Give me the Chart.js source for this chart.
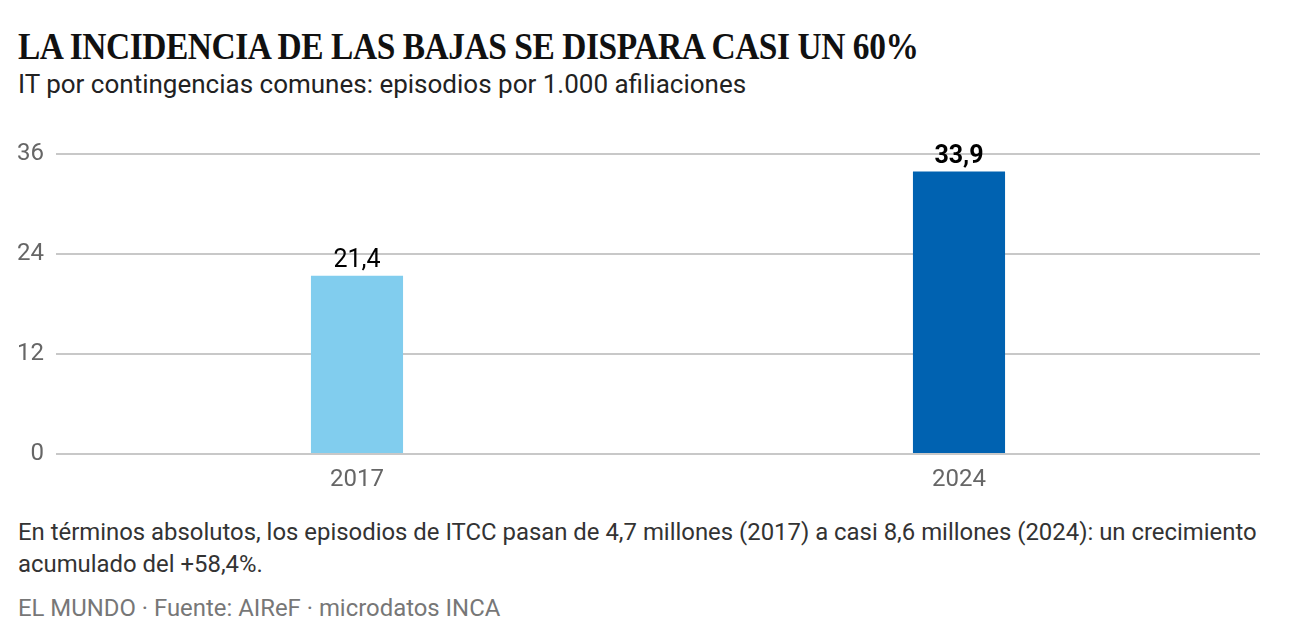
<!DOCTYPE html>
<html>
<head>
<meta charset="utf-8">
<script src="https://cdn.jsdelivr.net/npm/chart.js@4.4.1/dist/chart.umd.min.js"></script>
<style>
  body { margin: 0; background: #fff; width: 1292px; height: 642px; overflow: hidden; position: relative; font-family: Roboto, sans-serif; }
  h1 { position: absolute; left: 18px; top: 26px; margin: 0; font-family: "Liberation Serif", serif; font-weight: bold; font-size: 38px; line-height: 40px; color: #111; transform-origin: left top; transform: scaleX(0.88); white-space: nowrap; letter-spacing: -0.5px; }
  .sub { position: absolute; left: 18px; top: 69px; font-size: 26px; color: #222; }
  .wrap { position: absolute; left: 0; top: 110px; width: 1292px; height: 384px; }
  .note { position: absolute; left: 18px; top: 516px; width: 1262px; font-size: 23.9px; line-height: 32px; color: #333; }
  .src { position: absolute; left: 18px; top: 594px; font-size: 23.9px; color: #777; }
</style>
</head>
<body>
<h1 id="title">LA INCIDENCIA DE LAS BAJAS SE DISPARA CASI UN 60%</h1>
<div class="sub">IT por contingencias comunes: episodios por 1.000 afiliaciones</div>
<div class="wrap"><canvas id="chart"></canvas></div>
<div class="note">En términos absolutos, los episodios de ITCC pasan de 4,7 millones (2017) a casi 8,6 millones (2024): un crecimiento acumulado del +58,4%.</div>
<div class="src">EL MUNDO · Fuente: AIReF · microdatos INCA</div>
<script>
const years = ['2017', '2024'];
const values = [21.4, 33.9];
const barColors = ['#81cdee', '#0062b1'];
const yTicks = [0, 12, 24, 36];

// etiquetas de valor encima de cada barra
const valueLabels = {
  id: 'valueLabels',
  afterDatasetsDraw(chart) {
    const ctx = chart.ctx;
    const meta = chart.getDatasetMeta(0);
    ctx.save();
    ctx.textAlign = 'center';
    ctx.textBaseline = 'bottom';
    ctx.fillStyle = '#000';
    meta.data.forEach((bar, i) => {
      const last = i === values.length - 1;
      ctx.font = (last ? 'bold ' : '') + '25px Roboto';
      ctx.fillText(values[i].toFixed(1).replace('.', ','), bar.x, bar.y - 2);
    });
    ctx.restore();
  }
};

new Chart(document.getElementById('chart'), {
  type: 'bar',
  data: {
    labels: years,
    datasets: [{
      data: values,
      backgroundColor: barColors,
      borderWidth: 0,
      barPercentage: 0.153,
      categoryPercentage: 1
    }]
  },
  options: {
    responsive: true,
    maintainAspectRatio: false,
    animation: false,
    layout: { padding: { top: 44, right: 32, left: 0, bottom: 0 } },
    plugins: { legend: { display: false }, tooltip: { enabled: false } },
    scales: {
      x: {
        grid: { display: false },
        border: { display: false },
        ticks: { color: '#666', font: { family: 'Roboto', size: 24 }, padding: 4 },
        afterFit(axis) { axis.height = 40; }
      },
      y: {
        min: 0,
        max: 36,
        afterBuildTicks(axis) { axis.ticks = yTicks.map(v => ({ value: v })); },
        grid: { color: '#c8c8c8', lineWidth: 2, drawTicks: false },
        border: { display: false },
        ticks: { color: '#666', font: { family: 'Roboto', size: 24 }, padding: 12 },
        afterFit(axis) { axis.width = 56; }
      }
    }
  },
  plugins: [valueLabels]
});
</script>
</body>
</html>
